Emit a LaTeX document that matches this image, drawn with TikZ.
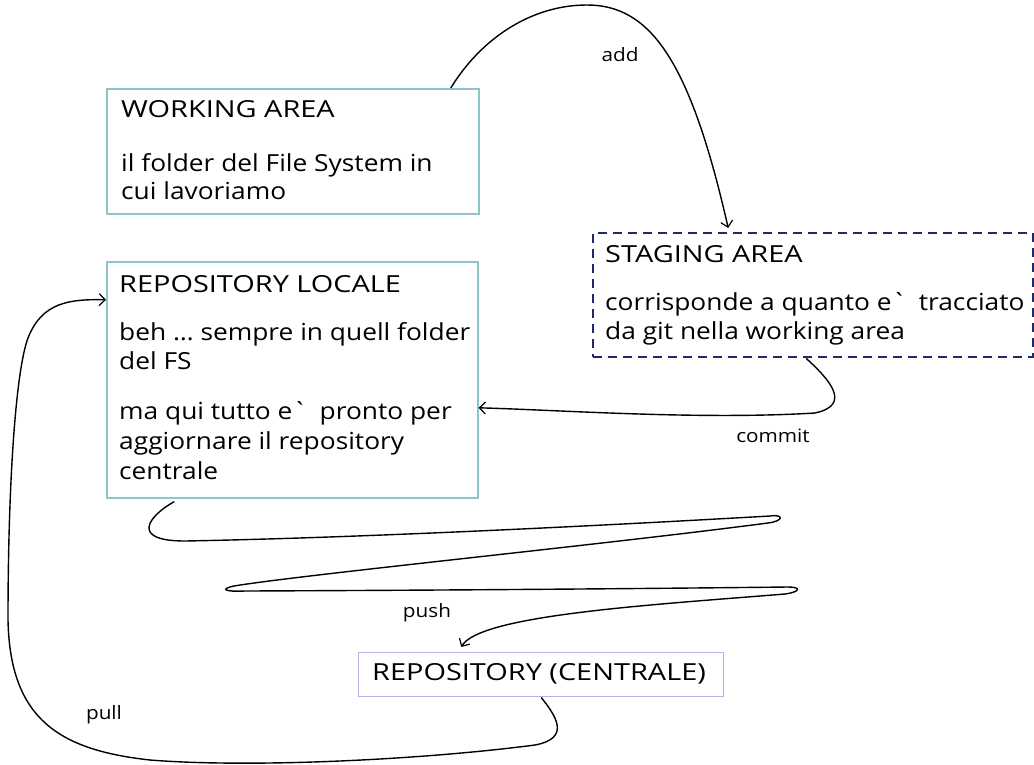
\documentclass[tikz,border=0pt]{standalone}
\usepackage{fontspec}
\setmainfont{Open Sans}[FakeStretch=1.12]
\newfontfamily\headfont{Open Sans}[FakeStretch=1.23]
\usetikzlibrary{arrows.meta,calc}
\definecolor{boxteal}{HTML}{8CC4C8}
\definecolor{stagenavy}{HTML}{1F2A6B}
\definecolor{centrallav}{HTML}{B4B4EC}
% plain grave mark glyph, without the TeX quote mapping
\newcommand{\gravemark}{\XeTeXglyph\XeTeXcharglyph"60\relax}
\begin{document}
\begin{tikzpicture}[x=1pt,y=-1pt,
  panel/.style={draw=boxteal,line width=1.6pt,anchor=north west,inner sep=0pt},
  stagebox/.style={draw=stagenavy,line width=2.4pt,dash pattern=on 9pt off 6pt,anchor=north west,inner sep=0pt},
  centralbox/.style={draw=centrallav,line width=1.4pt,anchor=north west,inner sep=0pt},
  txt/.style={anchor=base west,inner sep=0pt,font=\fontsize{23.5}{28}\selectfont},
  head/.style={anchor=base west,inner sep=0pt,font=\headfont\fontsize{23.5}{28}\selectfont},
  lbl/.style={inner sep=0pt,font=\fontsize{18.5}{20}\selectfont},
  flow/.style={line width=1.4pt,-{Straight Barb[length=6pt,width=12pt,line width=1.2pt]}}]
\useasboundingbox (0,0) rectangle (1034,764);

% boxes
\node[panel,minimum width=372pt,minimum height=125pt] (wa) at (106,88) {};
\node[stagebox,minimum width=440pt,minimum height=124pt] (sa) at (592,232) {};
\node[panel,minimum width=371pt,minimum height=236pt] (rl) at (106,261) {};
\node[centralbox,minimum width=365pt,minimum height=44pt] (rc) at (358,652) {};

% working area text
\node[head] (wa1) at (121,117) {WORKING AREA};
\node[txt] (wa2) at (121,171) {il folder del File System in};
\node[txt] (wa3) at (121,199) {cui lavoriamo};

% staging area text
\node[head] (sa1) at (605,262) {STAGING AREA};
\node[txt] (sa2) at (605,310) {corrisponde a quanto e\gravemark\ \ tracciato};
\node[txt] (sa3) at (605,339) {da git nella working area};

% local repository text
\node[head] (rl1) at (119,292) {REPOSITORY LOCALE};
\node[txt] (rl2) at (119,340) {beh … sempre in quell folder};
\node[txt] (rl3) at (119,369) {del FS};
\node[txt] (rl4) at (119,419) {ma qui tutto e\gravemark\ \ pronto per};
\node[txt] (rl5) at (119,449) {aggiornare il repository};
\node[txt] (rl6) at (119,479) {centrale};

% central repository text
\node[head] (rc1) at (372,680) {REPOSITORY (CENTRALE)};

% connector labels
\node[lbl] (ladd) at (620,55) {add};
\node[lbl] (lcommit) at (773,436) {commit};
\node[lbl] (lpush) at (427,613) {push};
\node[lbl] (lpull) at (104,715) {pull};

% add
\draw[flow] ([xshift=158pt]wa.north)
  .. controls (480,40) and (530,5) .. (587,5)
  .. controls (650,5) and (690,60) .. ([xshift=-85pt,yshift=4pt]sa.north);

% commit
\draw[flow] ([xshift=-7pt]sa.south)
  .. controls (830,380) and (852,405) .. (815,413)
  .. controls (700,420) and (560,410) .. ([yshift=-28pt]rl.east);

% push
\draw[flow] ([xshift=-118pt,yshift=-3pt]rl.south)
  .. controls (150,515) and (128,541) .. (185,541)
  .. controls (400,537) and (700,520) .. (770,516)
  .. controls (784,514) and (784,521) .. (768,523)
  .. controls (600,545) and (300,575) .. (234,586)
  .. controls (220,589) and (224,592) .. (245,591)
  .. controls (500,590) and (700,588) .. (788,587)
  .. controls (802,587) and (800,592) .. (785,594)
  .. controls (650,605) and (480,615) .. ([xshift=-80pt,yshift=5pt]rc.north);

% pull
\draw[flow] (rc.south)
  .. controls (555,715) and (572,738) .. (535,745)
  .. controls (420,760) and (250,768) .. (150,760)
  .. controls (60,750) and (10,720) .. (8,620)
  .. controls (8,480) and (16,370) .. (28,338)
  .. controls (42,302) and (70,299) .. ([yshift=80pt]rl.west);
\end{tikzpicture}
\end{document}
